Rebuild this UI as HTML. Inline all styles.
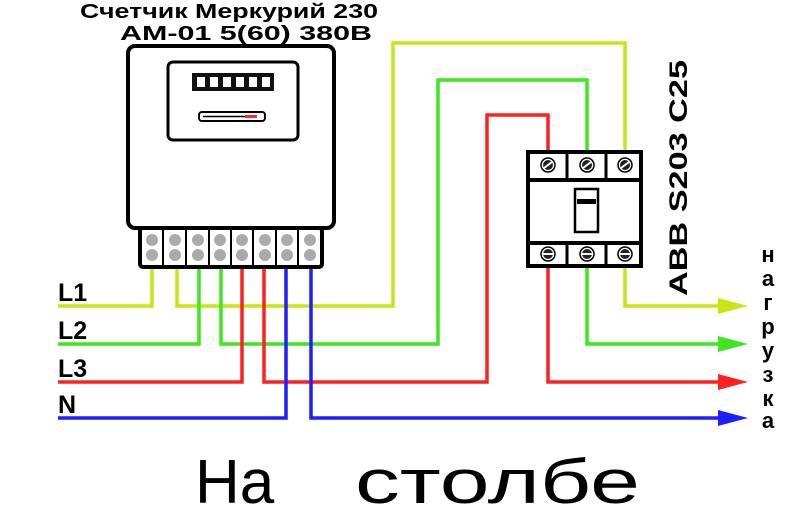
<!DOCTYPE html>
<html><head><meta charset="utf-8"><style>
html,body{margin:0;padding:0;background:#fff;width:800px;height:505px;overflow:hidden}
svg{display:block}
text{font-family:"Liberation Sans",sans-serif;font-weight:bold}
</style></head><body>
<svg width="800" height="505" viewBox="0 0 800 505" xmlns="http://www.w3.org/2000/svg">
<defs>
<g id="scr"><circle r="7" fill="#fff" stroke="#000" stroke-width="1.5"/><circle r="5" fill="#222"/><line x1="-4" y1="3" x2="4" y2="-3" stroke="#fff" stroke-width="2"/></g>
<g id="scr2"><circle r="7" fill="#fff" stroke="#000" stroke-width="1.5"/><circle r="5" fill="#222"/><line x1="-5" y1="0" x2="5" y2="0" stroke="#fff" stroke-width="2"/></g>
</defs>
<g fill="none" stroke-width="3.5" stroke-linejoin="miter">
<polyline stroke="#c8e614" points="58,306 152,306 152,266"/>
<polyline stroke="#c8e614" points="177,266 177,306 393,306 393,43 625,43 625,152"/>
<polyline stroke="#c8e614" points="625,266 625,306 722,306"/>
<polyline stroke="#3ee61e" points="58,344 199,344 199,266"/>
<polyline stroke="#3ee61e" points="221,266 221,344 438,344 438,80 587,80 587,152"/>
<polyline stroke="#3ee61e" points="587,266 587,344 722,344"/>
<polyline stroke="#ff2020" points="58,382 242,382 242,266"/>
<polyline stroke="#ff2020" points="264,266 264,382 487,382 487,115 548,115 548,152"/>
<polyline stroke="#ff2020" points="548,266 548,382 722,382"/>
<polyline stroke="#1e1eff" points="58,418 286,418 286,266"/>
<polyline stroke="#1e1eff" points="311,266 311,418 722,418"/>
</g>
<polygon fill="#c8e614" points="718,298 748,306 718,314"/>
<polygon fill="#3ee61e" points="718,336 748,344 718,352"/>
<polygon fill="#ff2020" points="718,374 748,382 718,390"/>
<polygon fill="#1e1eff" points="718,410 748,418 718,426"/>
<!-- meter -->
<rect x="128" y="46" width="206" height="182" rx="7" fill="#fff" stroke="#000" stroke-width="4"/>
<rect x="168" y="62" width="130" height="78" rx="5" fill="#fff" stroke="#000" stroke-width="3"/>
<rect x="192" y="73" width="82" height="18" fill="#111"/>
<g fill="#fff"><rect x="197" y="77" width="8" height="10"/><rect x="210" y="77" width="8" height="10"/><rect x="223" y="77" width="8" height="10"/><rect x="236" y="77" width="8" height="10"/><rect x="249" y="77" width="8" height="10"/><rect x="262" y="77" width="8" height="10"/></g>
<rect x="199" y="112" width="66" height="9" rx="3" fill="#fff" stroke="#000" stroke-width="2"/>
<line x1="203" y1="116.5" x2="245" y2="116.5" stroke="#000" stroke-width="1.5"/>
<rect x="245" y="115" width="12" height="3" fill="#e33"/>
<rect x="140" y="228" width="182" height="39" rx="3" fill="#fff" stroke="#000" stroke-width="4"/>
<g stroke="#000" stroke-width="2"><line x1="163" y1="229" x2="163" y2="266"/><line x1="186" y1="229" x2="186" y2="266"/><line x1="209" y1="229" x2="209" y2="266"/><line x1="231" y1="229" x2="231" y2="266"/><line x1="253" y1="229" x2="253" y2="266"/><line x1="276" y1="229" x2="276" y2="266"/><line x1="298" y1="229" x2="298" y2="266"/></g>
<g fill="#aaa"><circle cx="152" cy="240" r="6"/><circle cx="152" cy="255" r="6"/><circle cx="175" cy="240" r="6"/><circle cx="175" cy="255" r="6"/><circle cx="198" cy="240" r="6"/><circle cx="198" cy="255" r="6"/><circle cx="220" cy="240" r="6"/><circle cx="220" cy="255" r="6"/><circle cx="242" cy="240" r="6"/><circle cx="242" cy="255" r="6"/><circle cx="265" cy="240" r="6"/><circle cx="265" cy="255" r="6"/><circle cx="287" cy="240" r="6"/><circle cx="287" cy="255" r="6"/><circle cx="310" cy="240" r="6"/><circle cx="310" cy="255" r="6"/></g>
<!-- breaker -->
<rect x="528" y="152" width="113" height="114" fill="#fff" stroke="#000" stroke-width="4"/>
<line x1="528" y1="180" x2="641" y2="180" stroke="#000" stroke-width="4"/>
<line x1="528" y1="243" x2="641" y2="243" stroke="#000" stroke-width="4"/>
<g stroke="#000" stroke-width="3"><line x1="567" y1="152" x2="567" y2="180"/><line x1="606" y1="152" x2="606" y2="180"/><line x1="567" y1="243" x2="567" y2="266"/><line x1="606" y1="243" x2="606" y2="266"/></g>
<use href="#scr" x="548" y="165"/><use href="#scr" x="587" y="165"/><use href="#scr" x="625" y="165"/>
<use href="#scr2" x="548" y="254"/><use href="#scr2" x="587" y="254"/><use href="#scr2" x="625" y="254"/>
<rect x="575" y="189" width="23" height="43" fill="#fff" stroke="#000" stroke-width="2.5"/>
<rect x="577" y="199" width="19" height="5" fill="#000"/>
<!-- text -->
<text x="80" y="18" font-size="20" textLength="298" lengthAdjust="spacingAndGlyphs">Счетчик Меркурий 230</text>
<text x="120" y="40" font-size="20" textLength="252" lengthAdjust="spacingAndGlyphs">АМ-01 5(60) 380В</text>
<text transform="translate(687,296) rotate(-90)" font-size="25" textLength="236" lengthAdjust="spacingAndGlyphs">ABB  S203 C25</text>
<g font-size="22" text-anchor="middle"><text x="768" y="262">н</text><text x="768" y="286">а</text><text x="768" y="310">г</text><text x="768" y="334">р</text><text x="768" y="358">у</text><text x="768" y="382">з</text><text x="768" y="406">к</text><text x="768" y="428">а</text></g>
<g font-size="25"><text x="58" y="301">L1</text><text x="58" y="339">L2</text><text x="58" y="377">L3</text><text x="58" y="413">N</text></g>
<text x="195" y="503" font-size="62" style="font-weight:normal">На</text>
<text x="355" y="503" font-size="62" style="font-weight:normal" textLength="285" lengthAdjust="spacingAndGlyphs">столбе</text>
</svg>
</body></html>
